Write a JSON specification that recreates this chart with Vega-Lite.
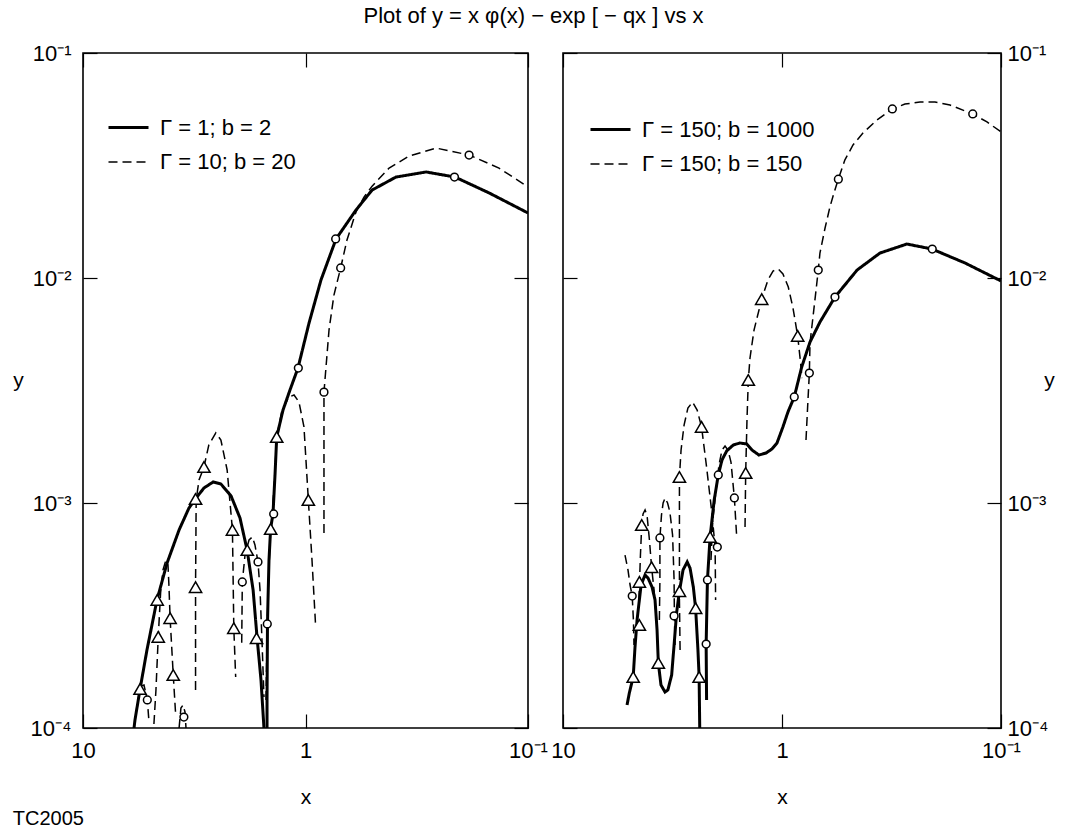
{
  "$schema": "https://vega.github.io/schema/vega-lite/v6.json",
  "background": "white",
  "padding": {"left": 12, "top": 5, "right": 4, "bottom": 0},
  "title": {"text": "Plot of  y = x φ(x) − exp [ − qx ]  vs  x", "font": "Liberation Sans", "fontSize": 22, "fontWeight": "normal", "color": "black", "anchor": "middle", "offset": 13},
  "config": {
    "font": "Liberation Sans",
    "view": {"stroke": "black", "strokeWidth": 1.6},
    "axis": {"grid": false, "domain": false, "ticks": true, "tickColor": "black", "tickSize": -14, "tickWidth": 1.2, "labelFont": "Liberation Sans", "labelFontSize": 22, "labelColor": "black", "titleFont": "Liberation Sans", "titleFontSize": 21, "titleFontWeight": "normal", "titleColor": "black", "labelFlush": false, "labelOverlap": false},
    "legend": {"labelFont": "Liberation Sans", "labelFontSize": 22, "labelColor": "black", "labelLimit": 400, "symbolType": "stroke", "symbolSize": 1600, "symbolStrokeColor": "black", "symbolStrokeWidth": 2, "labelOffset": 10, "rowPadding": 2, "title": null}
  },
  "datasets": {
    "L": [
      {"c":"Γ = 1; b = 2","s":"A","i":1,"x":6.02,"y":8.4e-5},
      {"c":"Γ = 1; b = 2","s":"A","i":2,"x":5.84,"y":1.085e-4},
      {"c":"Γ = 1; b = 2","s":"A","i":3,"x":5.54,"y":1.49e-4},
      {"c":"Γ = 1; b = 2","s":"A","i":4,"x":5.16,"y":2.22e-4},
      {"c":"Γ = 1; b = 2","s":"A","i":5,"x":4.65,"y":3.71e-4},
      {"c":"Γ = 1; b = 2","s":"A","i":6,"x":4.19,"y":5.41e-4},
      {"c":"Γ = 1; b = 2","s":"A","i":7,"x":3.70,"y":7.59e-4},
      {"c":"Γ = 1; b = 2","s":"A","i":8,"x":3.34,"y":9.5e-4},
      {"c":"Γ = 1; b = 2","s":"A","i":9,"x":3.10,"y":1.053e-3},
      {"c":"Γ = 1; b = 2","s":"A","i":10,"x":2.86,"y":1.166e-3},
      {"c":"Γ = 1; b = 2","s":"A","i":11,"x":2.60,"y":1.24e-3},
      {"c":"Γ = 1; b = 2","s":"A","i":12,"x":2.40,"y":1.215e-3},
      {"c":"Γ = 1; b = 2","s":"A","i":13,"x":2.16,"y":1.074e-3},
      {"c":"Γ = 1; b = 2","s":"A","i":14,"x":1.97,"y":8.58e-4},
      {"c":"Γ = 1; b = 2","s":"A","i":15,"x":1.83,"y":6.18e-4},
      {"c":"Γ = 1; b = 2","s":"A","i":16,"x":1.72,"y":4.11e-4},
      {"c":"Γ = 1; b = 2","s":"A","i":17,"x":1.65,"y":2.51e-4},
      {"c":"Γ = 1; b = 2","s":"A","i":18,"x":1.585,"y":1.634e-4},
      {"c":"Γ = 1; b = 2","s":"A","i":19,"x":1.537,"y":1.0e-4},
      {"c":"Γ = 1; b = 2","s":"A","i":20,"x":1.52,"y":7.98e-5},
      {"c":"Γ = 1; b = 2","s":"B","i":1,"x":1.489,"y":7.98e-5},
      {"c":"Γ = 1; b = 2","s":"B","i":2,"x":1.489,"y":1.332e-4},
      {"c":"Γ = 1; b = 2","s":"B","i":3,"x":1.482,"y":2.9e-4},
      {"c":"Γ = 1; b = 2","s":"B","i":4,"x":1.474,"y":3.71e-4},
      {"c":"Γ = 1; b = 2","s":"B","i":5,"x":1.459,"y":5.58e-4},
      {"c":"Γ = 1; b = 2","s":"B","i":6,"x":1.434,"y":7.74e-4},
      {"c":"Γ = 1; b = 2","s":"B","i":7,"x":1.400,"y":8.94e-4},
      {"c":"Γ = 1; b = 2","s":"B","i":8,"x":1.371,"y":1.332e-3},
      {"c":"Γ = 1; b = 2","s":"B","i":9,"x":1.347,"y":1.965e-3},
      {"c":"Γ = 1; b = 2","s":"B","i":10,"x":1.262,"y":2.59e-3},
      {"c":"Γ = 1; b = 2","s":"B","i":11,"x":1.174,"y":3.18e-3},
      {"c":"Γ = 1; b = 2","s":"B","i":12,"x":1.081,"y":3.98e-3},
      {"c":"Γ = 1; b = 2","s":"B","i":13,"x":0.964,"y":6.31e-3},
      {"c":"Γ = 1; b = 2","s":"B","i":14,"x":0.852,"y":9.8e-3},
      {"c":"Γ = 1; b = 2","s":"B","i":15,"x":0.729,"y":1.491e-2},
      {"c":"Γ = 1; b = 2","s":"B","i":16,"x":0.593,"y":2.005e-2},
      {"c":"Γ = 1; b = 2","s":"B","i":17,"x":0.502,"y":2.46e-2},
      {"c":"Γ = 1; b = 2","s":"B","i":18,"x":0.392,"y":2.81e-2},
      {"c":"Γ = 1; b = 2","s":"B","i":19,"x":0.287,"y":2.96e-2},
      {"c":"Γ = 1; b = 2","s":"B","i":20,"x":0.213,"y":2.81e-2},
      {"c":"Γ = 1; b = 2","s":"B","i":21,"x":0.1498,"y":2.39e-2},
      {"c":"Γ = 1; b = 2","s":"B","i":22,"x":0.1,"y":1.945e-2},
      {"c":"Γ = 10; b = 20","s":"D1","i":1,"x":5.66,"y":1.332e-4},
      {"c":"Γ = 10; b = 20","s":"D1","i":2,"x":5.49,"y":1.537e-4},
      {"c":"Γ = 10; b = 20","s":"D1","i":3,"x":5.32,"y":1.553e-4},
      {"c":"Γ = 10; b = 20","s":"D1","i":4,"x":5.14,"y":1.332e-4},
      {"c":"Γ = 10; b = 20","s":"D1","i":5,"x":5.05,"y":1.063e-4},
      {"c":"Γ = 10; b = 20","s":"D2","i":1,"x":4.80,"y":1.042e-4},
      {"c":"Γ = 10; b = 20","s":"D2","i":2,"x":4.70,"y":1.476e-4},
      {"c":"Γ = 10; b = 20","s":"D2","i":3,"x":4.59,"y":2.54e-4},
      {"c":"Γ = 10; b = 20","s":"D2","i":4,"x":4.48,"y":3.98e-4},
      {"c":"Γ = 10; b = 20","s":"D2","i":5,"x":4.37,"y":5.04e-4},
      {"c":"Γ = 10; b = 20","s":"D2","i":6,"x":4.24,"y":5.58e-4},
      {"c":"Γ = 10; b = 20","s":"D2","i":7,"x":4.15,"y":5.3e-4},
      {"c":"Γ = 10; b = 20","s":"D2","i":8,"x":4.11,"y":4.32e-4},
      {"c":"Γ = 10; b = 20","s":"D2","i":9,"x":4.06,"y":3.08e-4},
      {"c":"Γ = 10; b = 20","s":"D2","i":10,"x":3.93,"y":1.72e-4},
      {"c":"Γ = 10; b = 20","s":"D2","i":11,"x":3.83,"y":1.131e-4},
      {"c":"Γ = 10; b = 20","s":"D2b","i":1,"x":3.70,"y":1.0e-4},
      {"c":"Γ = 10; b = 20","s":"D2b","i":2,"x":3.63,"y":1.227e-4},
      {"c":"Γ = 10; b = 20","s":"D2b","i":3,"x":3.55,"y":1.265e-4},
      {"c":"Γ = 10; b = 20","s":"D2b","i":4,"x":3.48,"y":1.178e-4},
      {"c":"Γ = 10; b = 20","s":"D2b","i":5,"x":3.44,"y":9.8e-5},
      {"c":"Γ = 10; b = 20","s":"D3","i":1,"x":3.12,"y":1.476e-4},
      {"c":"Γ = 10; b = 20","s":"D3","i":2,"x":3.12,"y":4.23e-4},
      {"c":"Γ = 10; b = 20","s":"D3","i":3,"x":3.10,"y":1.031e-3},
      {"c":"Γ = 10; b = 20","s":"D3","i":4,"x":3.01,"y":1.265e-3},
      {"c":"Γ = 10; b = 20","s":"D3","i":5,"x":2.86,"y":1.445e-3},
      {"c":"Γ = 10; b = 20","s":"D3","i":6,"x":2.72,"y":1.811e-3},
      {"c":"Γ = 10; b = 20","s":"D3","i":7,"x":2.53,"y":2.05e-3},
      {"c":"Γ = 10; b = 20","s":"D3","i":8,"x":2.40,"y":1.905e-3},
      {"c":"Γ = 10; b = 20","s":"D3","i":9,"x":2.25,"y":1.402e-3},
      {"c":"Γ = 10; b = 20","s":"D3","i":10,"x":2.13,"y":7.59e-4},
      {"c":"Γ = 10; b = 20","s":"D3","i":11,"x":2.10,"y":2.78e-4},
      {"c":"Γ = 10; b = 20","s":"D3","i":12,"x":2.06,"y":1.686e-4},
      {"c":"Γ = 10; b = 20","s":"D4","i":1,"x":1.935,"y":2.39e-4},
      {"c":"Γ = 10; b = 20","s":"D4","i":2,"x":1.923,"y":4.46e-4},
      {"c":"Γ = 10; b = 20","s":"D4","i":3,"x":1.870,"y":5.87e-4},
      {"c":"Γ = 10; b = 20","s":"D4","i":4,"x":1.794,"y":6.85e-4},
      {"c":"Γ = 10; b = 20","s":"D4","i":5,"x":1.734,"y":7.06e-4},
      {"c":"Γ = 10; b = 20","s":"D4","i":6,"x":1.687,"y":6.51e-4},
      {"c":"Γ = 10; b = 20","s":"D4","i":7,"x":1.635,"y":5.47e-4},
      {"c":"Γ = 10; b = 20","s":"D4","i":8,"x":1.601,"y":4.11e-4},
      {"c":"Γ = 10; b = 20","s":"D4","i":9,"x":1.569,"y":2.46e-4},
      {"c":"Γ = 10; b = 20","s":"D4","i":10,"x":1.537,"y":1.373e-4},
      {"c":"Γ = 10; b = 20","s":"D5","i":1,"x":1.505,"y":1.332e-4},
      {"c":"Γ = 10; b = 20","s":"D5","i":2,"x":1.485,"y":2.9e-4},
      {"c":"Γ = 10; b = 20","s":"D5","i":3,"x":1.467,"y":4.55e-4},
      {"c":"Γ = 10; b = 20","s":"D5","i":4,"x":1.434,"y":7.66e-4},
      {"c":"Γ = 10; b = 20","s":"D5","i":5,"x":1.386,"y":1.142e-3},
      {"c":"Γ = 10; b = 20","s":"D5","i":6,"x":1.347,"y":1.965e-3},
      {"c":"Γ = 10; b = 20","s":"D5","i":7,"x":1.275,"y":2.59e-3},
      {"c":"Γ = 10; b = 20","s":"D5","i":8,"x":1.186,"y":2.96e-3},
      {"c":"Γ = 10; b = 20","s":"D5","i":9,"x":1.126,"y":3.02e-3},
      {"c":"Γ = 10; b = 20","s":"D5","i":10,"x":1.070,"y":2.81e-3},
      {"c":"Γ = 10; b = 20","s":"D5","i":11,"x":1.016,"y":2.18e-3},
      {"c":"Γ = 10; b = 20","s":"D5","i":12,"x":0.971,"y":1.031e-3},
      {"c":"Γ = 10; b = 20","s":"D5","i":13,"x":0.935,"y":5.58e-4},
      {"c":"Γ = 10; b = 20","s":"D5","i":14,"x":0.900,"y":2.81e-4},
      {"c":"Γ = 10; b = 20","s":"D6","i":1,"x":0.826,"y":7.36e-4},
      {"c":"Γ = 10; b = 20","s":"D6","i":2,"x":0.826,"y":1.402e-3},
      {"c":"Γ = 10; b = 20","s":"D6","i":3,"x":0.826,"y":3.11e-3},
      {"c":"Γ = 10; b = 20","s":"D6","i":4,"x":0.784,"y":5.87e-3},
      {"c":"Γ = 10; b = 20","s":"D6","i":5,"x":0.745,"y":8.4e-3},
      {"c":"Γ = 10; b = 20","s":"D6","i":6,"x":0.695,"y":1.108e-2},
      {"c":"Γ = 10; b = 20","s":"D6","i":7,"x":0.651,"y":1.476e-2},
      {"c":"Γ = 10; b = 20","s":"D6","i":8,"x":0.593,"y":1.965e-2},
      {"c":"Γ = 10; b = 20","s":"D6","i":9,"x":0.546,"y":2.29e-2},
      {"c":"Γ = 10; b = 20","s":"D6","i":10,"x":0.502,"y":2.56e-2},
      {"c":"Γ = 10; b = 20","s":"D6","i":11,"x":0.421,"y":3.08e-2},
      {"c":"Γ = 10; b = 20","s":"D6","i":12,"x":0.343,"y":3.48e-2},
      {"c":"Γ = 10; b = 20","s":"D6","i":13,"x":0.259,"y":3.78e-2},
      {"c":"Γ = 10; b = 20","s":"D6","i":14,"x":0.184,"y":3.52e-2},
      {"c":"Γ = 10; b = 20","s":"D6","i":15,"x":0.135,"y":3.08e-2},
      {"c":"Γ = 10; b = 20","s":"D6","i":16,"x":0.1,"y":2.54e-2}
    ],
    "LM": [
      {"m":"circle","x":5.14,"y":1.332e-4},
      {"m":"circle","x":3.52,"y":1.119e-4},
      {"m":"circle","x":1.923,"y":4.46e-4},
      {"m":"circle","x":1.635,"y":5.47e-4},
      {"m":"circle","x":1.485,"y":2.9e-4},
      {"m":"circle","x":1.39,"y":8.94e-4},
      {"m":"circle","x":1.077,"y":3.98e-3},
      {"m":"circle","x":0.826,"y":3.11e-3},
      {"m":"circle","x":0.732,"y":1.491e-2},
      {"m":"circle","x":0.695,"y":1.108e-2},
      {"m":"circle","x":0.214,"y":2.81e-2},
      {"m":"circle","x":0.184,"y":3.52e-2},
      {"m":"triangle","x":5.54,"y":1.49e-4},
      {"m":"triangle","x":4.64,"y":3.71e-4},
      {"m":"triangle","x":4.59,"y":2.54e-4},
      {"m":"triangle","x":4.06,"y":3.08e-4},
      {"m":"triangle","x":3.93,"y":1.72e-4},
      {"m":"triangle","x":3.12,"y":1.042e-3},
      {"m":"triangle","x":3.12,"y":4.23e-4},
      {"m":"triangle","x":2.86,"y":1.445e-3},
      {"m":"triangle","x":2.13,"y":7.59e-4},
      {"m":"triangle","x":2.10,"y":2.78e-4},
      {"m":"triangle","x":1.827,"y":6.18e-4},
      {"m":"triangle","x":1.66,"y":2.51e-4},
      {"m":"triangle","x":1.434,"y":7.66e-4},
      {"m":"triangle","x":1.347,"y":1.965e-3},
      {"m":"triangle","x":0.971,"y":1.031e-3}
    ],
    "R": [
      {"c":"Γ = 150; b = 1000","s":"A","i":1,"x":5.10,"y":1.265e-4},
      {"c":"Γ = 150; b = 1000","s":"A","i":2,"x":4.98,"y":1.43e-4},
      {"c":"Γ = 150; b = 1000","s":"A","i":3,"x":4.78,"y":1.686e-4},
      {"c":"Γ = 150; b = 1000","s":"A","i":4,"x":4.69,"y":2.29e-4},
      {"c":"Γ = 150; b = 1000","s":"A","i":5,"x":4.59,"y":3.02e-4},
      {"c":"Γ = 150; b = 1000","s":"A","i":6,"x":4.48,"y":3.71e-4},
      {"c":"Γ = 150; b = 1000","s":"A","i":7,"x":4.40,"y":4.32e-4},
      {"c":"Γ = 150; b = 1000","s":"A","i":8,"x":4.22,"y":4.79e-4},
      {"c":"Γ = 150; b = 1000","s":"A","i":9,"x":4.09,"y":4.64e-4},
      {"c":"Γ = 150; b = 1000","s":"A","i":10,"x":3.92,"y":4.23e-4},
      {"c":"Γ = 150; b = 1000","s":"A","i":11,"x":3.80,"y":3.71e-4},
      {"c":"Γ = 150; b = 1000","s":"A","i":12,"x":3.72,"y":2.73e-4},
      {"c":"Γ = 150; b = 1000","s":"A","i":13,"x":3.67,"y":1.945e-4},
      {"c":"Γ = 150; b = 1000","s":"A","i":14,"x":3.57,"y":1.553e-4},
      {"c":"Γ = 150; b = 1000","s":"A","i":15,"x":3.42,"y":1.445e-4},
      {"c":"Γ = 150; b = 1000","s":"A","i":16,"x":3.32,"y":1.476e-4},
      {"c":"Γ = 150; b = 1000","s":"A","i":17,"x":3.19,"y":1.72e-4},
      {"c":"Γ = 150; b = 1000","s":"A","i":18,"x":3.11,"y":2.34e-4},
      {"c":"Γ = 150; b = 1000","s":"A","i":19,"x":3.03,"y":3.24e-4},
      {"c":"Γ = 150; b = 1000","s":"A","i":20,"x":2.94,"y":4.06e-4},
      {"c":"Γ = 150; b = 1000","s":"A","i":21,"x":2.83,"y":5.04e-4},
      {"c":"Γ = 150; b = 1000","s":"A","i":22,"x":2.71,"y":5.47e-4},
      {"c":"Γ = 150; b = 1000","s":"A","i":23,"x":2.63,"y":5.14e-4},
      {"c":"Γ = 150; b = 1000","s":"A","i":24,"x":2.54,"y":4.23e-4},
      {"c":"Γ = 150; b = 1000","s":"A","i":25,"x":2.48,"y":3.41e-4},
      {"c":"Γ = 150; b = 1000","s":"A","i":26,"x":2.42,"y":2.22e-4},
      {"c":"Γ = 150; b = 1000","s":"A","i":27,"x":2.39,"y":1.686e-4},
      {"c":"Γ = 150; b = 1000","s":"A","i":28,"x":2.37,"y":8.4e-5},
      {"c":"Γ = 150; b = 1000","s":"B","i":1,"x":2.21,"y":1.332e-4},
      {"c":"Γ = 150; b = 1000","s":"B","i":2,"x":2.22,"y":2.36e-4},
      {"c":"Γ = 150; b = 1000","s":"B","i":3,"x":2.19,"y":4.55e-4},
      {"c":"Γ = 150; b = 1000","s":"B","i":4,"x":2.13,"y":7.06e-4},
      {"c":"Γ = 150; b = 1000","s":"B","i":5,"x":2.04,"y":1.031e-3},
      {"c":"Γ = 150; b = 1000","s":"B","i":6,"x":1.954,"y":1.332e-3},
      {"c":"Γ = 150; b = 1000","s":"B","i":7,"x":1.879,"y":1.553e-3},
      {"c":"Γ = 150; b = 1000","s":"B","i":8,"x":1.789,"y":1.703e-3},
      {"c":"Γ = 150; b = 1000","s":"B","i":9,"x":1.669,"y":1.811e-3},
      {"c":"Γ = 150; b = 1000","s":"B","i":10,"x":1.555,"y":1.848e-3},
      {"c":"Γ = 150; b = 1000","s":"B","i":11,"x":1.449,"y":1.829e-3},
      {"c":"Γ = 150; b = 1000","s":"B","i":12,"x":1.371,"y":1.72e-3},
      {"c":"Γ = 150; b = 1000","s":"B","i":13,"x":1.274,"y":1.634e-3},
      {"c":"Γ = 150; b = 1000","s":"B","i":14,"x":1.183,"y":1.668e-3},
      {"c":"Γ = 150; b = 1000","s":"B","i":15,"x":1.111,"y":1.738e-3},
      {"c":"Γ = 150; b = 1000","s":"B","i":16,"x":1.054,"y":1.848e-3},
      {"c":"Γ = 150; b = 1000","s":"B","i":17,"x":0.990,"y":2.18e-3},
      {"c":"Γ = 150; b = 1000","s":"B","i":18,"x":0.939,"y":2.54e-3},
      {"c":"Γ = 150; b = 1000","s":"B","i":19,"x":0.879,"y":2.96e-3},
      {"c":"Γ = 150; b = 1000","s":"B","i":20,"x":0.813,"y":4.02e-3},
      {"c":"Γ = 150; b = 1000","s":"B","i":21,"x":0.745,"y":5.19e-3},
      {"c":"Γ = 150; b = 1000","s":"B","i":22,"x":0.671,"y":6.37e-3},
      {"c":"Γ = 150; b = 1000","s":"B","i":23,"x":0.573,"y":8.23e-3},
      {"c":"Γ = 150; b = 1000","s":"B","i":24,"x":0.454,"y":1.085e-2},
      {"c":"Γ = 150; b = 1000","s":"B","i":25,"x":0.357,"y":1.291e-2},
      {"c":"Γ = 150; b = 1000","s":"B","i":26,"x":0.269,"y":1.416e-2},
      {"c":"Γ = 150; b = 1000","s":"B","i":27,"x":0.2066,"y":1.345e-2},
      {"c":"Γ = 150; b = 1000","s":"B","i":28,"x":0.146,"y":1.166e-2},
      {"c":"Γ = 150; b = 1000","s":"B","i":29,"x":0.1,"y":9.7e-3},
      {"c":"Γ = 150; b = 150","s":"R1","i":1,"x":5.21,"y":5.87e-4},
      {"c":"Γ = 150; b = 150","s":"R1","i":2,"x":5.05,"y":5.04e-4},
      {"c":"Γ = 150; b = 150","s":"R1","i":3,"x":4.94,"y":4.32e-4},
      {"c":"Γ = 150; b = 150","s":"R1","i":4,"x":4.83,"y":3.86e-4},
      {"c":"Γ = 150; b = 150","s":"R1","i":5,"x":4.77,"y":3.02e-4},
      {"c":"Γ = 150; b = 150","s":"R1","i":6,"x":4.74,"y":2.34e-4},
      {"c":"Γ = 150; b = 150","s":"R2","i":1,"x":4.50,"y":3.71e-4},
      {"c":"Γ = 150; b = 150","s":"R2","i":2,"x":4.43,"y":5.87e-4},
      {"c":"Γ = 150; b = 150","s":"R2","i":3,"x":4.37,"y":7.98e-4},
      {"c":"Γ = 150; b = 150","s":"R2","i":4,"x":4.31,"y":8.94e-4},
      {"c":"Γ = 150; b = 150","s":"R2","i":5,"x":4.22,"y":9.31e-4},
      {"c":"Γ = 150; b = 150","s":"R2","i":6,"x":4.13,"y":8.76e-4},
      {"c":"Γ = 150; b = 150","s":"R2","i":7,"x":4.03,"y":6.85e-4},
      {"c":"Γ = 150; b = 150","s":"R2","i":8,"x":3.94,"y":5.19e-4},
      {"c":"Γ = 150; b = 150","s":"R2","i":9,"x":3.84,"y":4.11e-4},
      {"c":"Γ = 150; b = 150","s":"R2","i":10,"x":3.76,"y":3.18e-4},
      {"c":"Γ = 150; b = 150","s":"R3","i":1,"x":3.63,"y":3.02e-4},
      {"c":"Γ = 150; b = 150","s":"R3","i":2,"x":3.61,"y":4.55e-4},
      {"c":"Γ = 150; b = 150","s":"R3","i":3,"x":3.61,"y":6.99e-4},
      {"c":"Γ = 150; b = 150","s":"R3","i":4,"x":3.55,"y":8.85e-4},
      {"c":"Γ = 150; b = 150","s":"R3","i":5,"x":3.49,"y":1.0e-3},
      {"c":"Γ = 150; b = 150","s":"R3","i":6,"x":3.42,"y":1.053e-3},
      {"c":"Γ = 150; b = 150","s":"R3","i":7,"x":3.33,"y":1.0e-3},
      {"c":"Γ = 150; b = 150","s":"R3","i":8,"x":3.25,"y":9.12e-4},
      {"c":"Γ = 150; b = 150","s":"R3","i":9,"x":3.16,"y":7.21e-4},
      {"c":"Γ = 150; b = 150","s":"R3","i":10,"x":3.11,"y":4.55e-4},
      {"c":"Γ = 150; b = 150","s":"R3","i":11,"x":3.10,"y":3.15e-4},
      {"c":"Γ = 150; b = 150","s":"R3","i":12,"x":3.08,"y":2.34e-4},
      {"c":"Γ = 150; b = 150","s":"R4","i":1,"x":2.92,"y":2.22e-4},
      {"c":"Γ = 150; b = 150","s":"R4","i":2,"x":2.94,"y":3.71e-4},
      {"c":"Γ = 150; b = 150","s":"R4","i":3,"x":2.94,"y":6.85e-4},
      {"c":"Γ = 150; b = 150","s":"R4","i":4,"x":2.94,"y":1.305e-3},
      {"c":"Γ = 150; b = 150","s":"R4","i":5,"x":2.89,"y":1.72e-3},
      {"c":"Γ = 150; b = 150","s":"R4","i":6,"x":2.80,"y":2.22e-3},
      {"c":"Γ = 150; b = 150","s":"R4","i":7,"x":2.69,"y":2.64e-3},
      {"c":"Γ = 150; b = 150","s":"R4","i":8,"x":2.56,"y":2.81e-3},
      {"c":"Γ = 150; b = 150","s":"R4","i":9,"x":2.44,"y":2.59e-3},
      {"c":"Γ = 150; b = 150","s":"R4","i":10,"x":2.33,"y":2.18e-3},
      {"c":"Γ = 150; b = 150","s":"R4","i":11,"x":2.21,"y":1.445e-3},
      {"c":"Γ = 150; b = 150","s":"R4","i":12,"x":2.09,"y":9.03e-4},
      {"c":"Γ = 150; b = 150","s":"R4","i":13,"x":2.02,"y":6.37e-4},
      {"c":"Γ = 150; b = 150","s":"R4","i":14,"x":2.01,"y":3.71e-4},
      {"c":"Γ = 150; b = 150","s":"R5","i":1,"x":2.11,"y":5.58e-4},
      {"c":"Γ = 150; b = 150","s":"R5","i":2,"x":2.07,"y":8.4e-4},
      {"c":"Γ = 150; b = 150","s":"R5","i":3,"x":2.00,"y":1.142e-3},
      {"c":"Γ = 150; b = 150","s":"R5","i":4,"x":1.94,"y":1.476e-3},
      {"c":"Γ = 150; b = 150","s":"R5","i":5,"x":1.879,"y":1.72e-3},
      {"c":"Γ = 150; b = 150","s":"R5","i":6,"x":1.82,"y":1.792e-3},
      {"c":"Γ = 150; b = 150","s":"R5","i":7,"x":1.765,"y":1.72e-3},
      {"c":"Γ = 150; b = 150","s":"R5","i":8,"x":1.71,"y":1.521e-3},
      {"c":"Γ = 150; b = 150","s":"R5","i":9,"x":1.65,"y":1.053e-3},
      {"c":"Γ = 150; b = 150","s":"R5","i":10,"x":1.61,"y":7.06e-4},
      {"c":"Γ = 150; b = 150","s":"R6","i":1,"x":1.475,"y":7.82e-4},
      {"c":"Γ = 150; b = 150","s":"R6","i":2,"x":1.465,"y":1.359e-3},
      {"c":"Γ = 150; b = 150","s":"R6","i":3,"x":1.445,"y":2.34e-3},
      {"c":"Γ = 150; b = 150","s":"R6","i":4,"x":1.425,"y":3.52e-3},
      {"c":"Γ = 150; b = 150","s":"R6","i":5,"x":1.40,"y":4.41e-3},
      {"c":"Γ = 150; b = 150","s":"R6","i":6,"x":1.342,"y":5.87e-3},
      {"c":"Γ = 150; b = 150","s":"R6","i":7,"x":1.238,"y":8.06e-3},
      {"c":"Γ = 150; b = 150","s":"R6","i":8,"x":1.159,"y":9.8e-3},
      {"c":"Γ = 150; b = 150","s":"R6","i":9,"x":1.099,"y":1.074e-2},
      {"c":"Γ = 150; b = 150","s":"R6","i":10,"x":1.040,"y":1.096e-2},
      {"c":"Γ = 150; b = 150","s":"R6","i":11,"x":0.990,"y":1.042e-2},
      {"c":"Γ = 150; b = 150","s":"R6","i":12,"x":0.936,"y":9.12e-3},
      {"c":"Γ = 150; b = 150","s":"R6","i":13,"x":0.891,"y":7.36e-3},
      {"c":"Γ = 150; b = 150","s":"R6","i":14,"x":0.848,"y":5.53e-3},
      {"c":"Γ = 150; b = 150","s":"R6","i":15,"x":0.828,"y":4.46e-3},
      {"c":"Γ = 150; b = 150","s":"R6","i":16,"x":0.810,"y":3.59e-3},
      {"c":"Γ = 150; b = 150","s":"R7","i":1,"x":0.777,"y":1.905e-3},
      {"c":"Γ = 150; b = 150","s":"R7","i":2,"x":0.761,"y":2.87e-3},
      {"c":"Γ = 150; b = 150","s":"R7","i":3,"x":0.750,"y":3.78e-3},
      {"c":"Γ = 150; b = 150","s":"R7","i":4,"x":0.745,"y":5.14e-3},
      {"c":"Γ = 150; b = 150","s":"R7","i":5,"x":0.722,"y":6.71e-3},
      {"c":"Γ = 150; b = 150","s":"R7","i":6,"x":0.699,"y":8.84e-3},
      {"c":"Γ = 150; b = 150","s":"R7","i":7,"x":0.683,"y":1.085e-2},
      {"c":"Γ = 150; b = 150","s":"R7","i":8,"x":0.671,"y":1.291e-2},
      {"c":"Γ = 150; b = 150","s":"R7","i":9,"x":0.636,"y":1.668e-2},
      {"c":"Γ = 150; b = 150","s":"R7","i":10,"x":0.604,"y":2.07e-2},
      {"c":"Γ = 150; b = 150","s":"R7","i":11,"x":0.579,"y":2.39e-2},
      {"c":"Γ = 150; b = 150","s":"R7","i":12,"x":0.553,"y":2.75e-2},
      {"c":"Γ = 150; b = 150","s":"R7","i":13,"x":0.516,"y":3.35e-2},
      {"c":"Γ = 150; b = 150","s":"R7","i":14,"x":0.474,"y":3.9e-2},
      {"c":"Γ = 150; b = 150","s":"R7","i":15,"x":0.427,"y":4.41e-2},
      {"c":"Γ = 150; b = 150","s":"R7","i":16,"x":0.368,"y":5.04e-2},
      {"c":"Γ = 150; b = 150","s":"R7","i":17,"x":0.3134,"y":5.64e-2},
      {"c":"Γ = 150; b = 150","s":"R7","i":18,"x":0.2746,"y":5.93e-2},
      {"c":"Γ = 150; b = 150","s":"R7","i":19,"x":0.2344,"y":6.06e-2},
      {"c":"Γ = 150; b = 150","s":"R7","i":20,"x":0.2001,"y":6.06e-2},
      {"c":"Γ = 150; b = 150","s":"R7","i":21,"x":0.171,"y":5.87e-2},
      {"c":"Γ = 150; b = 150","s":"R7","i":22,"x":0.1346,"y":5.36e-2},
      {"c":"Γ = 150; b = 150","s":"R7","i":23,"x":0.1159,"y":4.94e-2},
      {"c":"Γ = 150; b = 150","s":"R7","i":24,"x":0.1,"y":4.46e-2}
    ],
    "RM": [
      {"m":"circle","x":4.83,"y":3.86e-4},
      {"m":"circle","x":3.61,"y":6.99e-4},
      {"m":"circle","x":3.11,"y":3.15e-4},
      {"m":"circle","x":2.22,"y":2.36e-4},
      {"m":"circle","x":2.19,"y":4.55e-4},
      {"m":"circle","x":1.974,"y":6.37e-4},
      {"m":"circle","x":1.954,"y":1.332e-3},
      {"m":"circle","x":1.65,"y":1.053e-3},
      {"m":"circle","x":0.879,"y":2.96e-3},
      {"m":"circle","x":0.750,"y":3.78e-3},
      {"m":"circle","x":0.683,"y":1.085e-2},
      {"m":"circle","x":0.573,"y":8.23e-3},
      {"m":"circle","x":0.553,"y":2.75e-2},
      {"m":"circle","x":0.3134,"y":5.64e-2},
      {"m":"circle","x":0.206,"y":1.345e-2},
      {"m":"circle","x":0.1346,"y":5.36e-2},
      {"m":"triangle","x":4.78,"y":1.686e-4},
      {"m":"triangle","x":4.48,"y":2.87e-4},
      {"m":"triangle","x":4.48,"y":4.46e-4},
      {"m":"triangle","x":4.37,"y":7.98e-4},
      {"m":"triangle","x":3.94,"y":5.19e-4},
      {"m":"triangle","x":3.67,"y":1.945e-4},
      {"m":"triangle","x":2.94,"y":4.06e-4},
      {"m":"triangle","x":2.94,"y":1.305e-3},
      {"m":"triangle","x":2.48,"y":3.41e-4},
      {"m":"triangle","x":2.39,"y":1.686e-4},
      {"m":"triangle","x":2.33,"y":2.18e-3},
      {"m":"triangle","x":2.13,"y":7.06e-4},
      {"m":"triangle","x":1.465,"y":1.359e-3},
      {"m":"triangle","x":1.425,"y":3.52e-3},
      {"m":"triangle","x":1.238,"y":8.06e-3},
      {"m":"triangle","x":0.848,"y":5.53e-3}
    ]
  },
  "hconcat": [
    {
      "width": 445,
      "height": 675,
      "title": {"text": "TC2005", "orient": "bottom", "anchor": "start", "frame": "bounds", "fontSize": 20, "fontWeight": "normal", "font": "Liberation Sans", "color": "black", "offset": 2},
      "layer": [
        {
          "data": {"name": "L"},
          "mark": {"type": "line", "clip": true, "color": "black"},
          "encoding": {
            "x": {"field": "x", "type": "quantitative", "scale": {"type": "log", "domain": [0.1, 10], "reverse": true}, "axis": {"orient": "bottom", "values": [10, 1, 0.1], "labelExpr": "datum.value > 5 ? '10' : datum.value > 0.5 ? '1' : '10⁻¹'", "labelPadding": 26, "title": "x", "titlePadding": 25}},
            "y": {"field": "y", "type": "quantitative", "scale": {"type": "log", "domain": [0.0001, 0.1]}, "axis": {"orient": "left", "values": [0.1, 0.01, 0.001, 0.0001], "labelExpr": "datum.value > 0.05 ? '10⁻¹' : datum.value > 0.005 ? '10⁻²' : datum.value > 0.0005 ? '10⁻³' : '10⁻⁴'", "labelPadding": 26, "title": "y", "titleAngle": 0, "titlePadding": 12}},
            "strokeDash": {"field": "c", "type": "nominal", "scale": {"domain": ["Γ = 1; b = 2", "Γ = 10; b = 20"], "range": [[1, 0], [9, 5]]}, "legend": {"orient": "none", "legendX": 24, "legendY": 53}},
            "strokeWidth": {"field": "c", "type": "nominal", "scale": {"domain": ["Γ = 1; b = 2", "Γ = 10; b = 20"], "range": [3, 1.5]}, "legend": null},
            "detail": {"field": "s", "type": "nominal"},
            "order": {"field": "i", "type": "quantitative"}
          }
        },
        {
          "data": {"name": "LM"},
          "mark": {"type": "point", "filled": true, "fill": "white", "stroke": "black", "strokeWidth": 1.5, "opacity": 1},
          "encoding": {
            "x": {"field": "x", "type": "quantitative", "scale": {"type": "log", "domain": [0.1, 10], "reverse": true}, "axis": {"orient": "top", "values": [10, 1, 0.1], "labels": false, "title": null}},
            "y": {"field": "y", "type": "quantitative", "scale": {"type": "log", "domain": [0.0001, 0.1]}, "axis": {"orient": "right", "values": [0.1, 0.01, 0.001, 0.0001], "labels": false, "title": null}},
            "shape": {"field": "m", "type": "nominal", "scale": {"domain": ["circle", "triangle"], "range": ["circle", "triangle-up"]}, "legend": null},
            "size": {"field": "m", "type": "nominal", "scale": {"domain": ["circle", "triangle"], "range": [60, 150]}, "legend": null}
          }
        }
      ],
      "resolve": {"scale": {"x": "independent", "y": "independent"}}
    },
    {
      "width": 438,
      "height": 675,
      "layer": [
        {
          "data": {"name": "R"},
          "mark": {"type": "line", "clip": true, "color": "black"},
          "encoding": {
            "x": {"field": "x", "type": "quantitative", "scale": {"type": "log", "domain": [0.1, 10], "reverse": true}, "axis": {"orient": "bottom", "values": [10, 1, 0.1], "labelExpr": "datum.value > 5 ? '10' : datum.value > 0.5 ? '1' : '10⁻¹'", "labelPadding": 26, "title": "x", "titlePadding": 25}},
            "y": {"field": "y", "type": "quantitative", "scale": {"type": "log", "domain": [0.0001, 0.1]}, "axis": {"orient": "right", "values": [0.1, 0.01, 0.001, 0.0001], "labelExpr": "datum.value > 0.05 ? '10⁻¹' : datum.value > 0.005 ? '10⁻²' : datum.value > 0.0005 ? '10⁻³' : '10⁻⁴'", "labelPadding": 20, "title": "y", "titleAngle": 0, "titlePadding": 1}},
            "strokeDash": {"field": "c", "type": "nominal", "scale": {"domain": ["Γ = 150; b = 1000", "Γ = 150; b = 150"], "range": [[1, 0], [9, 5]]}, "legend": {"orient": "none", "legendX": 26, "legendY": 55}},
            "strokeWidth": {"field": "c", "type": "nominal", "scale": {"domain": ["Γ = 150; b = 1000", "Γ = 150; b = 150"], "range": [3, 1.5]}, "legend": null},
            "detail": {"field": "s", "type": "nominal"},
            "order": {"field": "i", "type": "quantitative"}
          }
        },
        {
          "data": {"name": "RM"},
          "mark": {"type": "point", "filled": true, "fill": "white", "stroke": "black", "strokeWidth": 1.5, "opacity": 1},
          "encoding": {
            "x": {"field": "x", "type": "quantitative", "scale": {"type": "log", "domain": [0.1, 10], "reverse": true}, "axis": {"orient": "top", "values": [10, 1, 0.1], "labels": false, "title": null}},
            "y": {"field": "y", "type": "quantitative", "scale": {"type": "log", "domain": [0.0001, 0.1]}, "axis": {"orient": "left", "values": [0.1, 0.01, 0.001, 0.0001], "labels": false, "title": null}},
            "shape": {"field": "m", "type": "nominal", "scale": {"domain": ["circle", "triangle"], "range": ["circle", "triangle-up"]}, "legend": null},
            "size": {"field": "m", "type": "nominal", "scale": {"domain": ["circle", "triangle"], "range": [60, 150]}, "legend": null}
          }
        }
      ],
      "resolve": {"scale": {"x": "independent", "y": "independent"}}
    }
  ],
  "spacing": 0,
  "resolve": {"scale": {"strokeDash": "independent", "strokeWidth": "independent", "shape": "independent", "size": "independent"}, "legend": {"strokeDash": "independent"}}
}
